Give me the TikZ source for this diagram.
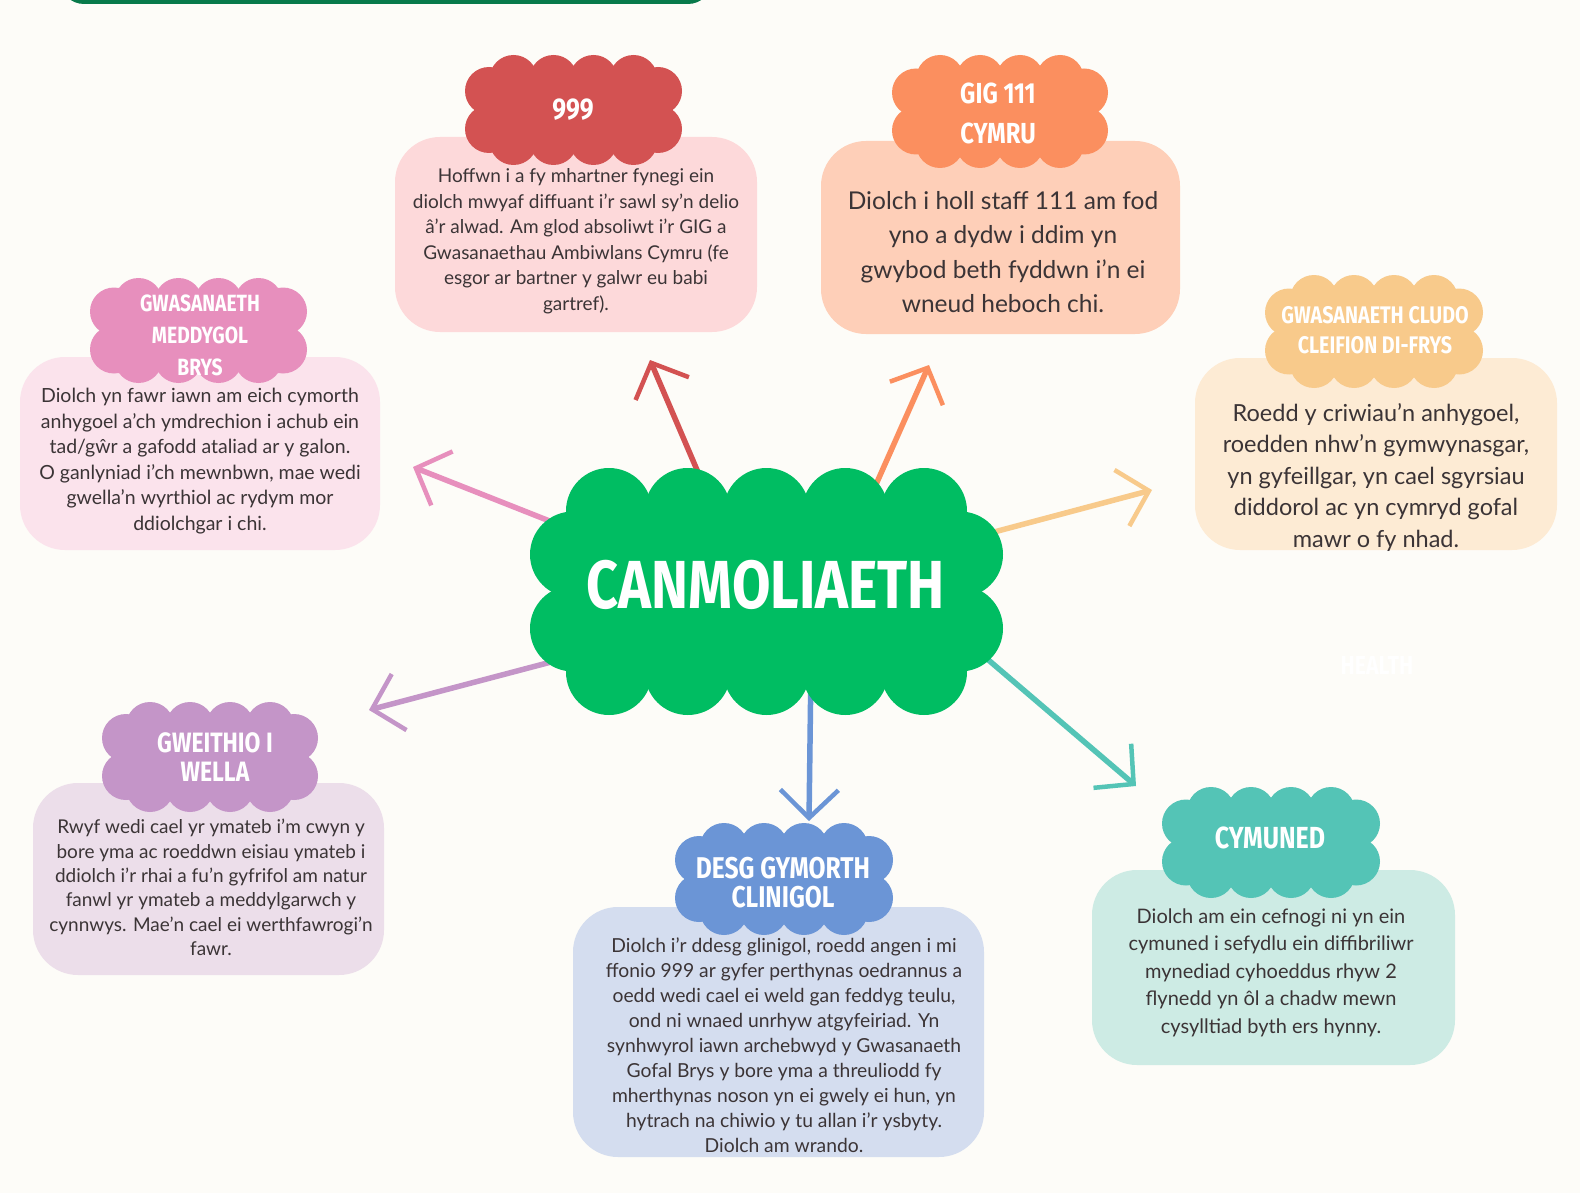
\documentclass[tikz,border=0pt]{standalone}
\usepackage{fontspec}
\setmainfont{Lato}
\newfontfamily\headfont[FakeStretch=0.82]{Fira Sans}
\usetikzlibrary{arrows.meta}
\definecolor{bg}{HTML}{FDFCF8}
\definecolor{bar}{HTML}{087A4B}
\definecolor{txt}{HTML}{3B3436}
\definecolor{cmain}{HTML}{00BD62}
\definecolor{c999}{HTML}{D35252}
\definecolor{p999}{HTML}{FDD9DA}
\definecolor{cgig}{HTML}{FB8F5F}
\definecolor{pgig}{HTML}{FECFB8}
\definecolor{cmed}{HTML}{E78FBD}
\definecolor{pmed}{HTML}{FBE3EC}
\definecolor{cclu}{HTML}{F8CA8B}
\definecolor{pclu}{HTML}{FDEBD4}
\definecolor{cwel}{HTML}{C495C8}
\definecolor{pwel}{HTML}{ECDEEA}
\definecolor{cdes}{HTML}{6B95D6}
\definecolor{pdes}{HTML}{D4DDEF}
\definecolor{ccym}{HTML}{54C4B6}
\definecolor{pcym}{HTML}{CDEBE4}
% #1 cx #2 cy #3 hw #4 hh #5 hx #6 hy #7 n #8 m #9 r
\newcommand\drawcloud[9]{%
  \fill (#1-#3,#2-#4) rectangle (#1+#3,#2+#4);
  \pgfmathtruncatemacro\nA{#7-1}%
  \pgfmathtruncatemacro\mA{#8-1}%
  \foreach \i in {0,...,\nA} {
    \pgfmathsetmacro\xx{#1-#5+\i*2*#5/\nA}
    \fill (\xx,#2-#4) circle[radius=#9pt];
    \fill (\xx,#2+#4) circle[radius=#9pt];
  }
  \foreach \j in {0,...,\mA} {
    \pgfmathsetmacro\yy{#2-#6+\j*2*#6/\mA}
    \fill (#1-#3,\yy) circle[radius=#9pt];
    \fill (#1+#3,\yy) circle[radius=#9pt];
  }
}
% small cloud: cx cy w h
\newcommand\smallcloud[4]{%
  \pgfmathsetmacro\hwv{#3/2-24}%
  \pgfmathsetmacro\hhv{#4/2-24}%
  \drawcloud{#1}{#2}{\hwv}{\hhv}{60}{19}{4}{2}{24}%
}
\tikzset{
  headtxt/.style={text=white, font=\headfont\bfseries, align=center, inner sep=0pt},
  bodytxt/.style={text=txt, align=center, inner sep=0pt},
  panel/.style={rounded corners=45pt, inner sep=0pt},
  arr/.style={line width=5.5pt, line cap=round,
    -{Straight Barb[length=28pt,width=58pt,line width=4.5pt]}},
}
\begin{document}
\begin{tikzpicture}[x=1pt,y=-1pt]
\useasboundingbox (0,0) rectangle (1580,1193);
\clip (0,0) rectangle (1580,1193);
\fill[bg] (0,0) rectangle (1580,1193);
\fill[bar, rounded corners=24pt] (60,-40) rectangle (712,4);

% arrow coordinates
\coordinate (s1) at (590,537);  \coordinate (t1) at (413,467);
\coordinate (s2) at (709,498);  \coordinate (t2) at (650,360);
\coordinate (s3) at (866,507);  \coordinate (t3) at (929,365);
\coordinate (s4) at (964,540);  \coordinate (t4) at (1152,490);
\coordinate (s5) at (589,652);  \coordinate (t5) at (369,710);
\coordinate (s6) at (811,665);  \coordinate (t6) at (809,821);
\coordinate (s7) at (965,640);  \coordinate (t7) at (1136,786);

\draw[arr, draw=cmed] (s1) -- (t1);
\draw[arr, draw=c999] (s2) -- (t2);
\draw[arr, draw=cgig] (s3) -- (t3);
\draw[arr, draw=cclu] (s4) -- (t4);
\draw[arr, draw=cwel] (s5) -- (t5);
\draw[arr, draw=cdes] (s6) -- (t6);
\draw[arr, draw=ccym] (s7) -- (t7);

% panels
\node[panel, fill=p999, minimum width=362pt, minimum height=195pt] (b999) at (576,234.5) {};
\node[panel, fill=pgig, minimum width=359pt, minimum height=193pt] (bgig) at (1000.5,237.5) {};
\node[panel, fill=pmed, minimum width=360pt, minimum height=193pt] (bmed) at (200,453.5) {};
\node[panel, fill=pclu, minimum width=362pt, minimum height=192pt] (bclu) at (1376,454) {};
\node[panel, fill=pwel, minimum width=351pt, minimum height=192pt] (bwel) at (208.5,879) {};
\node[panel, fill=pdes, minimum width=411pt, minimum height=250pt] (bdes) at (778.5,1032) {};
\node[panel, fill=pcym, minimum width=363pt, minimum height=195pt] (bcym) at (1273.5,967.5) {};

% clouds
\begin{scope}[fill=cmain]\drawcloud{766.5}{591.5}{193.5}{80.5}{157.5}{37}{5}{2}{43}\end{scope}
\begin{scope}[fill=c999]\smallcloud{573.5}{110}{217}{110}\end{scope}
\begin{scope}[fill=cgig]\smallcloud{1000}{111.5}{216}{113}\end{scope}
\begin{scope}[fill=cmed]\smallcloud{198.5}{330.5}{217}{105}\end{scope}
\begin{scope}[fill=cclu]\smallcloud{1374}{331.5}{218}{113}\end{scope}
\begin{scope}[fill=cwel]\smallcloud{210}{757}{216}{110}\end{scope}
\begin{scope}[fill=cdes]\smallcloud{784}{879}{218}{112}\end{scope}
\begin{scope}[fill=ccym]\smallcloud{1271}{842.5}{218}{111}\end{scope}

% headings
\node[headtxt, font=\headfont\bfseries\fontsize{68}{68}\selectfont] (main) at (766,585) {CANMOLIAETH};
\node[headtxt, font=\headfont\bfseries\fontsize{30}{30}\selectfont] (h999) at (573,110) {999};
\node[headtxt, font=\headfont\bfseries\fontsize{29}{40}\selectfont] (hgig) at (998,113) {GIG 111\\CYMRU};
\node[headtxt, font=\headfont\bfseries\fontsize{23.5}{32}\selectfont] (hmed) at (200,335) {GWASANAETH\\MEDDYGOL\\BRYS};
\node[headtxt, font=\headfont\bfseries\fontsize{24}{30}\selectfont] (hclu) at (1375,330) {GWASANAETH CLUDO\\CLEIFION DI-FRYS};
\node[headtxt, font=\headfont\bfseries\fontsize{28}{29}\selectfont] (hwel) at (215,757.5) {GWEITHIO I\\WELLA};
\node[headtxt, font=\headfont\bfseries\fontsize{30}{29}\selectfont] (hdes) at (783,882.5) {DESG GYMORTH\\CLINIGOL};
\node[headtxt, font=\headfont\bfseries\fontsize{30.5}{29}\selectfont] (hcym) at (1270,838) {CYMUNED};
\node[text=white, font=\headfont\bfseries\fontsize{26}{26}\selectfont] (ghost) at (1377,665) {HEALTH};

% body texts
\node[bodytxt, font=\fontsize{19}{25.5}\selectfont] (t999) at (576,241) {Hoffwn i a fy mhartner fynegi ein\\diolch mwyaf diffuant i'r sawl sy'n delio\\â'r alwad. Am glod absoliwt i'r GIG a\\Gwasanaethau Ambiwlans Cymru (fe\\esgor ar bartner y galwr eu babi\\gartref).};
\node[bodytxt, font=\fontsize{24.5}{34.5}\selectfont] (tgig) at (1003,252) {Diolch i holl staff 111 am fod\\yno a dydw i ddim yn\\gwybod beth fyddwn i'n ei\\wneud heboch chi.};
\node[bodytxt, font=\fontsize{19.5}{25.5}\selectfont] (tmed) at (200,461) {Diolch yn fawr iawn am eich cymorth\\anhygoel a'ch ymdrechion i achub ein\\tad/gŵr a gafodd ataliad ar y galon.\\O ganlyniad i'ch mewnbwn, mae wedi\\gwella'n wyrthiol ac rydym mor\\ddiolchgar i chi.};
\node[bodytxt, font=\fontsize{23.5}{31.5}\selectfont] (tclu) at (1376,477.5) {Roedd y criwiau'n anhygoel,\\roedden nhw'n gymwynasgar,\\yn gyfeillgar, yn cael sgyrsiau\\diddorol ac yn cymryd gofal\\mawr o fy nhad.};
\node[bodytxt, font=\fontsize{19}{24.3}\selectfont] (twel) at (211,887.5) {Rwyf wedi cael yr ymateb i'm cwyn y\\bore yma ac roeddwn eisiau ymateb i\\ddiolch i'r rhai a fu'n gyfrifol am natur\\fanwl yr ymateb a meddylgarwch y\\cynnwys. Mae'n cael ei werthfawrogi'n\\fawr.};
\node[bodytxt, font=\fontsize{19.3}{25}\selectfont] (tdes) at (784,1045) {Diolch i'r ddesg glinigol, roedd angen i mi\\ffonio 999 ar gyfer perthynas oedrannus a\\oedd wedi cael ei weld gan feddyg teulu,\\ond ni wnaed unrhyw atgyfeiriad. Yn\\synhwyrol iawn archebwyd y Gwasanaeth\\Gofal Brys y bore yma a threuliodd fy\\mherthynas noson yn ei gwely ei hun, yn\\hytrach na chiwio y tu allan i'r ysbyty.\\Diolch am wrando.};
\node[bodytxt, font=\fontsize{20}{27.5}\selectfont] (tcym) at (1271,972.5) {Diolch am ein cefnogi ni yn ein\\cymuned i sefydlu ein diffibriliwr\\mynediad cyhoeddus rhyw 2\\flynedd yn ôl a chadw mewn\\cysylltiad byth ers hynny.};
\end{tikzpicture}
\end{document}
